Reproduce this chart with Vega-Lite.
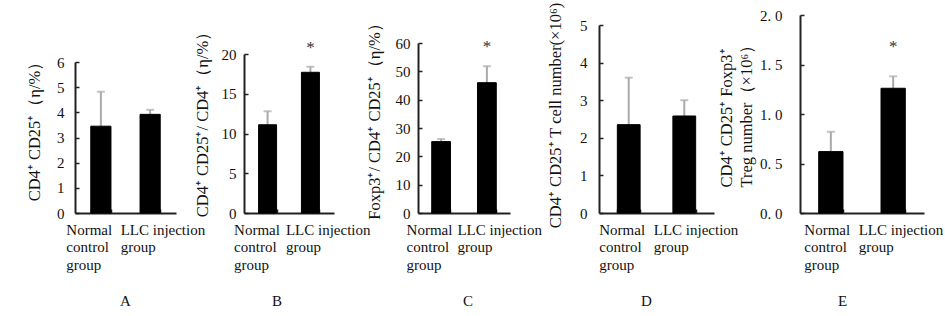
{
  "$schema": "https://vega.github.io/schema/vega-lite/v6.json",
  "padding": {"left": 26, "top": 2, "right": 0, "bottom": 0},
  "background": "white",
  "data": {"values": [
    {"panel": "A", "group": "Normal|control|group", "mean": 3.45, "upper": 4.82, "sig": ""},
    {"panel": "A", "group": "LLC injection|group", "mean": 3.92, "upper": 4.1, "sig": ""},
    {"panel": "B", "group": "Normal|control|group", "mean": 11.1, "upper": 12.8, "sig": ""},
    {"panel": "B", "group": "LLC injection|group", "mean": 17.7, "upper": 18.4, "sig": "*"},
    {"panel": "C", "group": "Normal|control|group", "mean": 25.2, "upper": 26.1, "sig": ""},
    {"panel": "C", "group": "LLC injection|group", "mean": 46.0, "upper": 51.8, "sig": "*"},
    {"panel": "D", "group": "Normal|control|group", "mean": 2.35, "upper": 3.6, "sig": ""},
    {"panel": "D", "group": "LLC injection|group", "mean": 2.58, "upper": 3.0, "sig": ""},
    {"panel": "E", "group": "Normal|control|group", "mean": 0.62, "upper": 0.82, "sig": ""},
    {"panel": "E", "group": "LLC injection|group", "mean": 1.26, "upper": 1.38, "sig": "*"}
  ]},
  "config": {
    "font": "Liberation Serif",
    "view": {"stroke": null},
    "axis": {
      "grid": false,
      "domainColor": "#222",
      "domainWidth": 2,
      "tickColor": "#222",
      "tickWidth": 1.5,
      "tickSize": -4,
      "labelFont": "Liberation Serif",
      "labelFontSize": 15,
      "labelColor": "#111",
      "titleFont": "Liberation Serif",
      "titleFontSize": 16.5,
      "titleFontWeight": "normal",
      "titleColor": "#111"
    },
    "axisX": {
      "tickBand": "extent",
      "labelAngle": 0,
      "labelAlign": "left",
      "labelBaseline": "top",
      "labelPadding": 13,
      "labelLineHeight": 17.5,
      "labelOverlap": false,
      "labelExpr": "split(datum.label, '|')",
      "title": null
    },
    "axisY": {
      "titleAngle": -90,
      "titleBaseline": "middle",
      "titleAlign": "center"
    },
    "title": {"font": "Liberation Serif", "fontSize": 15, "fontWeight": "normal", "color": "#111", "orient": "bottom", "anchor": "start", "frame": "group", "align": "center", "offset": 22}
  },
  "bounds": "flush",
  "spacing": 0,
  "hconcat": [
    {
      "width": 169, "height": 198,
      "title": {"text": "A", "dx": 45},
      "transform": [{"filter": "datum.panel === 'A'"}],
      "encoding": {
        "x": {"field": "group", "type": "nominal", "sort": null, "scale": {"range": [0, 101], "paddingInner": 0.59, "paddingOuter": 0.32},
          "axis": {"labelOffset": {"condition": {"test": "datum.value === 'Normal|control|group'", "value": -35}, "value": -30}}},
        "y": {"type": "quantitative", "scale": {"domain": [0, 6], "range": [198, 47], "nice": false}, "axis": {"values": [0, 1, 2, 3, 4, 5, 6], "title": "CD4⁺ CD25⁺（η/%）", "titleX": -41, "titleY": 112, "labelPadding": 15}}
      },
      "layer": [
        {"mark": {"type": "rule", "color": "#aaa", "strokeWidth": 2}, "encoding": {"y": {"field": "mean"}, "y2": {"field": "upper"}}},
        {"mark": {"type": "tick", "color": "#aaa", "thickness": 2, "size": 8}, "encoding": {"y": {"field": "upper"}}},
        {"mark": {"type": "bar", "color": "black", "stroke": "black"}, "encoding": {"y": {"field": "mean"}}},
        {"transform": [{"filter": "datum.sig !== ''"}], "mark": {"type": "text", "fontSize": 17, "dy": -19, "baseline": "middle", "color": "#333"}, "encoding": {"y": {"field": "upper"}, "text": {"field": "sig"}}}
      ]
    },
    {
      "width": 174, "height": 198,
      "title": {"text": "B", "dx": 28},
      "transform": [{"filter": "datum.panel === 'B'"}],
      "encoding": {
        "x": {"field": "group", "type": "nominal", "sort": null, "scale": {"range": [0, 90], "paddingInner": 0.58, "paddingOuter": 0.34},
          "axis": {"labelOffset": {"condition": {"test": "datum.value === 'Normal|control|group'", "value": -34}, "value": -25}}},
        "y": {"type": "quantitative", "scale": {"domain": [0, 20], "range": [198, 39], "nice": false}, "axis": {"values": [0, 5, 10, 15, 20], "title": "CD4⁺ CD25⁺/ CD4⁺（η/%）", "titleX": -42, "titleY": 105, "labelPadding": 12}}
      },
      "layer": [
        {"mark": {"type": "rule", "color": "#aaa", "strokeWidth": 2}, "encoding": {"y": {"field": "mean"}, "y2": {"field": "upper"}}},
        {"mark": {"type": "tick", "color": "#aaa", "thickness": 2, "size": 8}, "encoding": {"y": {"field": "upper"}}},
        {"mark": {"type": "bar", "color": "black", "stroke": "black"}, "encoding": {"y": {"field": "mean"}}},
        {"transform": [{"filter": "datum.sig !== ''"}], "mark": {"type": "text", "fontSize": 17, "dy": -19, "baseline": "middle", "color": "#333"}, "encoding": {"y": {"field": "upper"}, "text": {"field": "sig"}}}
      ]
    },
    {
      "width": 181, "height": 198,
      "title": {"text": "C", "dx": 45},
      "transform": [{"filter": "datum.panel === 'C'"}],
      "encoding": {
        "x": {"field": "group", "type": "nominal", "sort": null, "scale": {"range": [0, 92], "paddingInner": 0.59, "paddingOuter": 0.3},
          "axis": {"labelOffset": {"condition": {"test": "datum.value === 'Normal|control|group'", "value": -35}, "value": -30}}},
        "y": {"type": "quantitative", "scale": {"domain": [0, 60], "range": [198, 28], "nice": false}, "axis": {"values": [0, 10, 20, 30, 40, 50, 60], "title": "Foxp3⁺/ CD4⁺ CD25⁺（η/%）", "titleX": -44, "titleY": 102, "labelPadding": 12}}
      },
      "layer": [
        {"mark": {"type": "rule", "color": "#aaa", "strokeWidth": 2}, "encoding": {"y": {"field": "mean"}, "y2": {"field": "upper"}}},
        {"mark": {"type": "tick", "color": "#aaa", "thickness": 2, "size": 8}, "encoding": {"y": {"field": "upper"}}},
        {"mark": {"type": "bar", "color": "black", "stroke": "black"}, "encoding": {"y": {"field": "mean"}}},
        {"transform": [{"filter": "datum.sig !== ''"}], "mark": {"type": "text", "fontSize": 17, "dy": -19, "baseline": "middle", "color": "#333"}, "encoding": {"y": {"field": "upper"}, "text": {"field": "sig"}}}
      ]
    },
    {
      "width": 201, "height": 198,
      "title": {"text": "D", "dx": 42},
      "transform": [{"filter": "datum.panel === 'D'"}],
      "encoding": {
        "x": {"field": "group", "type": "nominal", "sort": null, "scale": {"range": [0, 115], "paddingInner": 0.59, "paddingOuter": 0.33},
          "axis": {"labelOffset": {"condition": {"test": "datum.value === 'Normal|control|group'", "value": -30}, "value": -31}}},
        "y": {"type": "quantitative", "scale": {"domain": [0, 5], "range": [198, 10], "nice": false}, "axis": {"values": [0, 1, 2, 3, 4, 5], "title": "CD4⁺ CD25⁺ T cell number(×10⁶)", "titleX": -44, "titleY": 100, "labelPadding": 16}}
      },
      "layer": [
        {"mark": {"type": "rule", "color": "#aaa", "strokeWidth": 2}, "encoding": {"y": {"field": "mean"}, "y2": {"field": "upper"}}},
        {"mark": {"type": "tick", "color": "#aaa", "thickness": 2, "size": 8}, "encoding": {"y": {"field": "upper"}}},
        {"mark": {"type": "bar", "color": "black", "stroke": "black"}, "encoding": {"y": {"field": "mean"}}}
      ]
    },
    {
      "width": 124, "height": 198,
      "title": {"text": "E", "dx": 38},
      "transform": [{"filter": "datum.panel === 'E'"}],
      "encoding": {
        "x": {"field": "group", "type": "nominal", "sort": null, "scale": {"range": [0, 124], "paddingInner": 0.61, "paddingOuter": 0.3},
          "axis": {"labelOffset": {"condition": {"test": "datum.value === 'Normal|control|group'", "value": -27}, "value": -35}}},
        "y": {"type": "quantitative", "scale": {"domain": [0, 2], "range": [198, 0], "nice": false}, "axis": {"values": [0, 0.5, 1, 1.5, 2], "labelExpr": "replace(format(datum.value, '.1f'), '.', '. ')", "title": ["CD4⁺ CD25⁺ Foxp3⁺", "Treg number（×10⁶）"], "titleX": -74, "titleY": 172, "titleAlign": "left", "titleLineHeight": 20, "labelPadding": 22}}
      },
      "layer": [
        {"mark": {"type": "rule", "color": "#aaa", "strokeWidth": 2}, "encoding": {"y": {"field": "mean"}, "y2": {"field": "upper"}}},
        {"mark": {"type": "tick", "color": "#aaa", "thickness": 2, "size": 8}, "encoding": {"y": {"field": "upper"}}},
        {"mark": {"type": "bar", "color": "black", "stroke": "black"}, "encoding": {"y": {"field": "mean"}}},
        {"transform": [{"filter": "datum.sig !== ''"}], "mark": {"type": "text", "fontSize": 17, "dy": -29, "baseline": "middle", "color": "#333"}, "encoding": {"y": {"field": "upper"}, "text": {"field": "sig"}}}
      ]
    }
  ]
}
